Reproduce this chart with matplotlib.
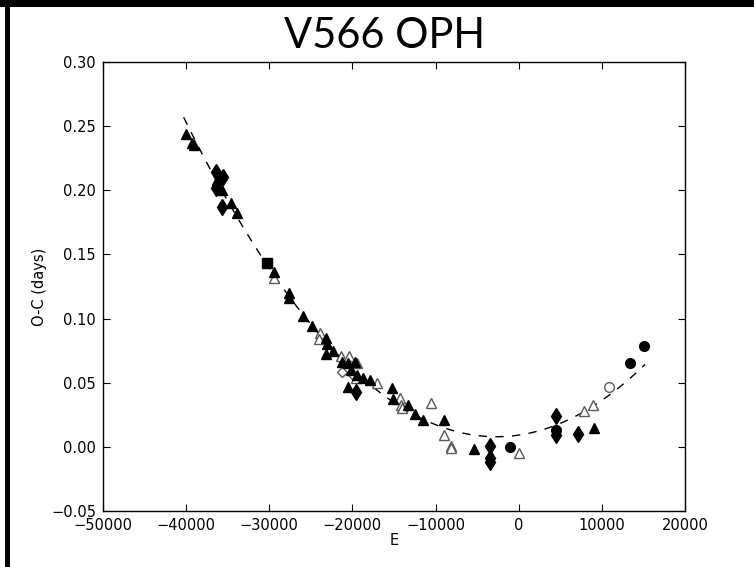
import numpy as np
import matplotlib
matplotlib.use("Agg")
import matplotlib.pyplot as plt
from matplotlib.patches import Rectangle

# ---- data ----
tri_filled_E = [-40000, -39250, -39000, -36300, -35700, -34650, -33900, -29450,
                -27650, -27650, -25900, -24900, -23200, -23100, -23200, -22300,
                -21300, -20500, -19700, -20200, -19500, -18700, -17900, -20500,
                -15250, -15150, -13300, -12500, -11500, -9000, -5400, 9000]
tri_filled_OC = [0.244, 0.237, 0.235, 0.208, 0.200, 0.190, 0.182, 0.136,
                 0.120, 0.116, 0.102, 0.094, 0.085, 0.080, 0.072, 0.075,
                 0.066, 0.065, 0.066, 0.060, 0.056, 0.054, 0.052, 0.047,
                 0.046, 0.037, 0.033, 0.026, 0.021, 0.021, -0.002, 0.015]

tri_open_E = [-29450, -23900, -24000, -21400, -20400, -19500, -19600, -17000,
              -14300, -14200, -14000, -10600, -9000, -8100, -8100, 0, 7900, 8900]
tri_open_OC = [0.132, 0.089, 0.084, 0.071, 0.071, 0.065, 0.054, 0.050,
               0.038, 0.033, 0.030, 0.034, 0.009, 0.001, -0.001, -0.005, 0.028, 0.033]

dia_open_E = [-21200, -20000]
dia_open_OC = [0.058, 0.057]

dia_filled_E = [-36400, -35600, -36450, -35700, -19600, -3450, -3450, -3450, 4500, 4500, 7100]
dia_filled_OC = [0.214, 0.210, 0.202, 0.187, 0.043, 0.001, -0.009, -0.012, 0.024, 0.009, 0.010]

sq_filled_E = [-30300]
sq_filled_OC = [0.143]

circ_filled_E = [-1050, 4500, 13400, 15100]
circ_filled_OC = [0.000, 0.013, 0.065, 0.079]

circ_open_E = [10850]
circ_open_OC = [0.047]

# quadratic ephemeris fit: OC = c2*E^2 + c1*E + c0
fit_coeffs = [1.761e-10, 9.48e-7, 0.00916]
fit_range = [-40300, 15200]

x_ticks = [-50000, -40000, -30000, -20000, -10000, 0, 10000, 20000]
y_ticks = [-0.05, 0.00, 0.05, 0.10, 0.15, 0.20, 0.25, 0.30]

# ---- figure ----
W, H = 754, 567
fig = plt.figure(figsize=(W / 100, H / 100), dpi=100)
fig.patch.set_facecolor("white")

ax = fig.add_axes([103 / W, 1 - 511 / H, (685 - 103) / W, (511 - 62) / H])
ax.tick_params(direction="in", top=True, right=True, length=5, width=0.8,
               labelsize=10.5, pad=5)

Ef = np.linspace(fit_range[0], fit_range[1], 300)
ax.plot(Ef, np.polyval(fit_coeffs, Ef), ls=(0, (6, 6)), color="black", lw=1.0, zorder=1)

ms = 7
ax.plot(tri_open_E, tri_open_OC, "^", ms=ms, mfc="white", mec="0.35", mew=1.0, ls="none", zorder=2)
ax.plot(dia_open_E, dia_open_OC, "D", ms=ms - 1.5, mfc="white", mec="0.35", mew=1.0, ls="none", zorder=2)
ax.plot(circ_open_E, circ_open_OC, "o", ms=ms, mfc="white", mec="0.35", mew=1.0, ls="none", zorder=2)
ax.plot(tri_filled_E, tri_filled_OC, "^", ms=ms, mfc="black", mec="black", ls="none", zorder=3)
ax.plot(dia_filled_E, dia_filled_OC, "d", ms=ms + 1, mfc="black", mec="black", ls="none", zorder=3)
ax.plot(sq_filled_E, sq_filled_OC, "s", ms=ms - 0.5, mfc="black", mec="black", ls="none", zorder=3)
ax.plot(circ_filled_E, circ_filled_OC, "o", ms=ms, mfc="black", mec="black", ls="none", zorder=3)

ax.set_xlim(-50000, 20000)
ax.set_ylim(-0.05, 0.30)
ax.set_xticks(x_ticks)
ax.set_yticks(y_ticks)
ax.set_xticklabels([f"{v:d}".replace("-", "\u2212") for v in x_ticks])
ax.set_yticklabels([f"{v:.2f}".replace("-", "\u2212") for v in y_ticks])
ax.set_xlabel("E", fontsize=10.5, labelpad=0)
ax.set_ylabel("O-C (days)", fontsize=10.5, labelpad=3)
for s in ax.spines.values():
    s.set_linewidth(1.0)

fig.text(0.5 + 7 / W, 1 - 48 / H, "V566 OPH", ha="center", va="baseline",
         fontsize=30, family=["Lato", "DejaVu Sans"])

# slide frame (top and left)
fig.add_artist(Rectangle((5 / W, 0), 5 / W, 1, transform=fig.transFigure,
                         facecolor="black", edgecolor="none"))
fig.add_artist(Rectangle((0, 1 - 7 / H), 1, 7 / H, transform=fig.transFigure,
                         facecolor="black", edgecolor="none"))

fig.savefig("out.png", dpi=100)
